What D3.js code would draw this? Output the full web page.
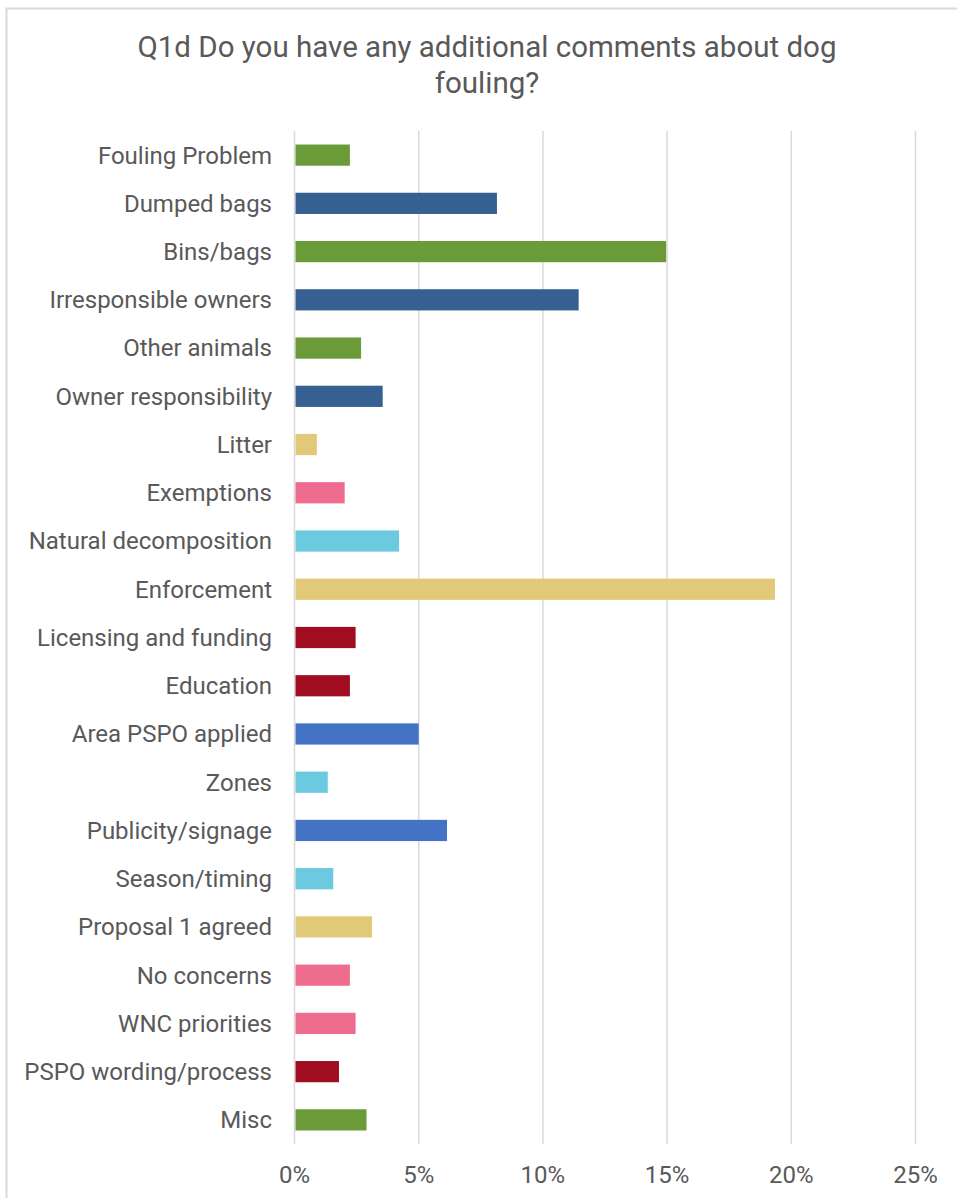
<!DOCTYPE html>
<html>
<head>
<meta charset="utf-8">
<script src="https://cdn.jsdelivr.net/npm/d3@7"></script>
<style>
  body { margin: 0; background: #fff; }
  text { font-family: Roboto, "Noto Sans", sans-serif; }
</style>
</head>
<body>
<script>
// Chart data
const categories = [
  "Fouling Problem", "Dumped bags", "Bins/bags", "Irresponsible owners",
  "Other animals", "Owner responsibility", "Litter", "Exemptions",
  "Natural decomposition", "Enforcement", "Licensing and funding", "Education",
  "Area PSPO applied", "Zones", "Publicity/signage", "Season/timing",
  "Proposal 1 agreed", "No concerns", "WNC priorities", "PSPO wording/process", "Misc"
];
const values = [
  2.23, 8.15, 14.96, 11.44,
  2.68, 3.55, 0.9, 2.02,
  4.21, 19.34, 2.46, 2.23,
  5.0, 1.34, 6.14, 1.56,
  3.12, 2.23, 2.46, 1.79, 2.9
];
const groups = [
  "green", "navy", "green", "navy",
  "green", "navy", "yellow", "pink",
  "sky", "yellow", "red", "red",
  "blue", "sky", "blue", "sky",
  "yellow", "pink", "pink", "red", "green"
];
const tickValues = [0, 5, 10, 15, 20, 25];
const titleLines = ["Q1d Do you have any additional comments about dog", "fouling?"];

const palette = {
  green: "#6b9a38", navy: "#366092", yellow: "#e2c977", pink: "#ee6d8f",
  sky: "#6ccae0", red: "#a00d20", blue: "#4472c4"
};

// Layout
const WIDTH = 957, HEIGHT = 1198;
const PLOT_LEFT = 294.5, PLOT_RIGHT = 915.5;
const PLOT_TOP = 131, PLOT_BOTTOM = 1144;
const TEXT_COLOR = "#595959";

var svg = d3.select("body").append("svg")
  .attr("width", WIDTH)
  .attr("height", HEIGHT);

// Chart border (only top and left edges fall inside the picture)
svg.append("rect")
  .attr("x", 6.5).attr("y", 8.5)
  .attr("width", WIDTH + 10).attr("height", HEIGHT)
  .attr("fill", "#fff")
  .attr("stroke", "#d9d9d9")
  .attr("stroke-width", 2);

var x = d3.scaleLinear().domain([0, 25]).range([PLOT_LEFT, PLOT_RIGHT]);
var y = d3.scaleBand().domain(categories).range([PLOT_TOP, PLOT_BOTTOM]).paddingInner(0.56).paddingOuter(0.28);

// Gridlines
svg.append("g")
  .selectAll("line")
  .data(tickValues)
  .join("line")
  .attr("x1", d => x(d)).attr("x2", d => x(d))
  .attr("y1", PLOT_TOP).attr("y2", PLOT_BOTTOM)
  .attr("stroke", "#d9d9d9")
  .attr("stroke-width", 1.5);

// Bars
svg.append("g")
  .selectAll("rect")
  .data(categories)
  .join("rect")
  .attr("x", x(0) + 1)
  .attr("y", d => y(d))
  .attr("width", (d, i) => x(values[i]) - x(0) - 1)
  .attr("height", y.bandwidth())
  .attr("fill", (d, i) => palette[groups[i]]);

// Category labels
svg.append("g")
  .selectAll("text")
  .data(categories)
  .join("text")
  .attr("x", 272)
  .attr("y", d => y(d) + y.bandwidth() / 2)
  .attr("dy", "0.35em")
  .attr("text-anchor", "end")
  .attr("font-size", 24)
  .attr("fill", TEXT_COLOR)
  .text(d => d);

// X axis tick labels
svg.append("g")
  .selectAll("text")
  .data(tickValues)
  .join("text")
  .attr("x", d => x(d))
  .attr("y", 1175)
  .attr("dy", "0.35em")
  .attr("text-anchor", "middle")
  .attr("font-size", 24)
  .attr("fill", TEXT_COLOR)
  .text(d => d + "%");

// Title
svg.append("g")
  .selectAll("text")
  .data(titleLines)
  .join("text")
  .attr("x", 487)
  .attr("y", (d, i) => 47 + i * 36)
  .attr("dy", "0.35em")
  .attr("text-anchor", "middle")
  .attr("font-size", 29.5)
  .attr("fill", TEXT_COLOR)
  .text(d => d);
</script>
</body>
</html>
